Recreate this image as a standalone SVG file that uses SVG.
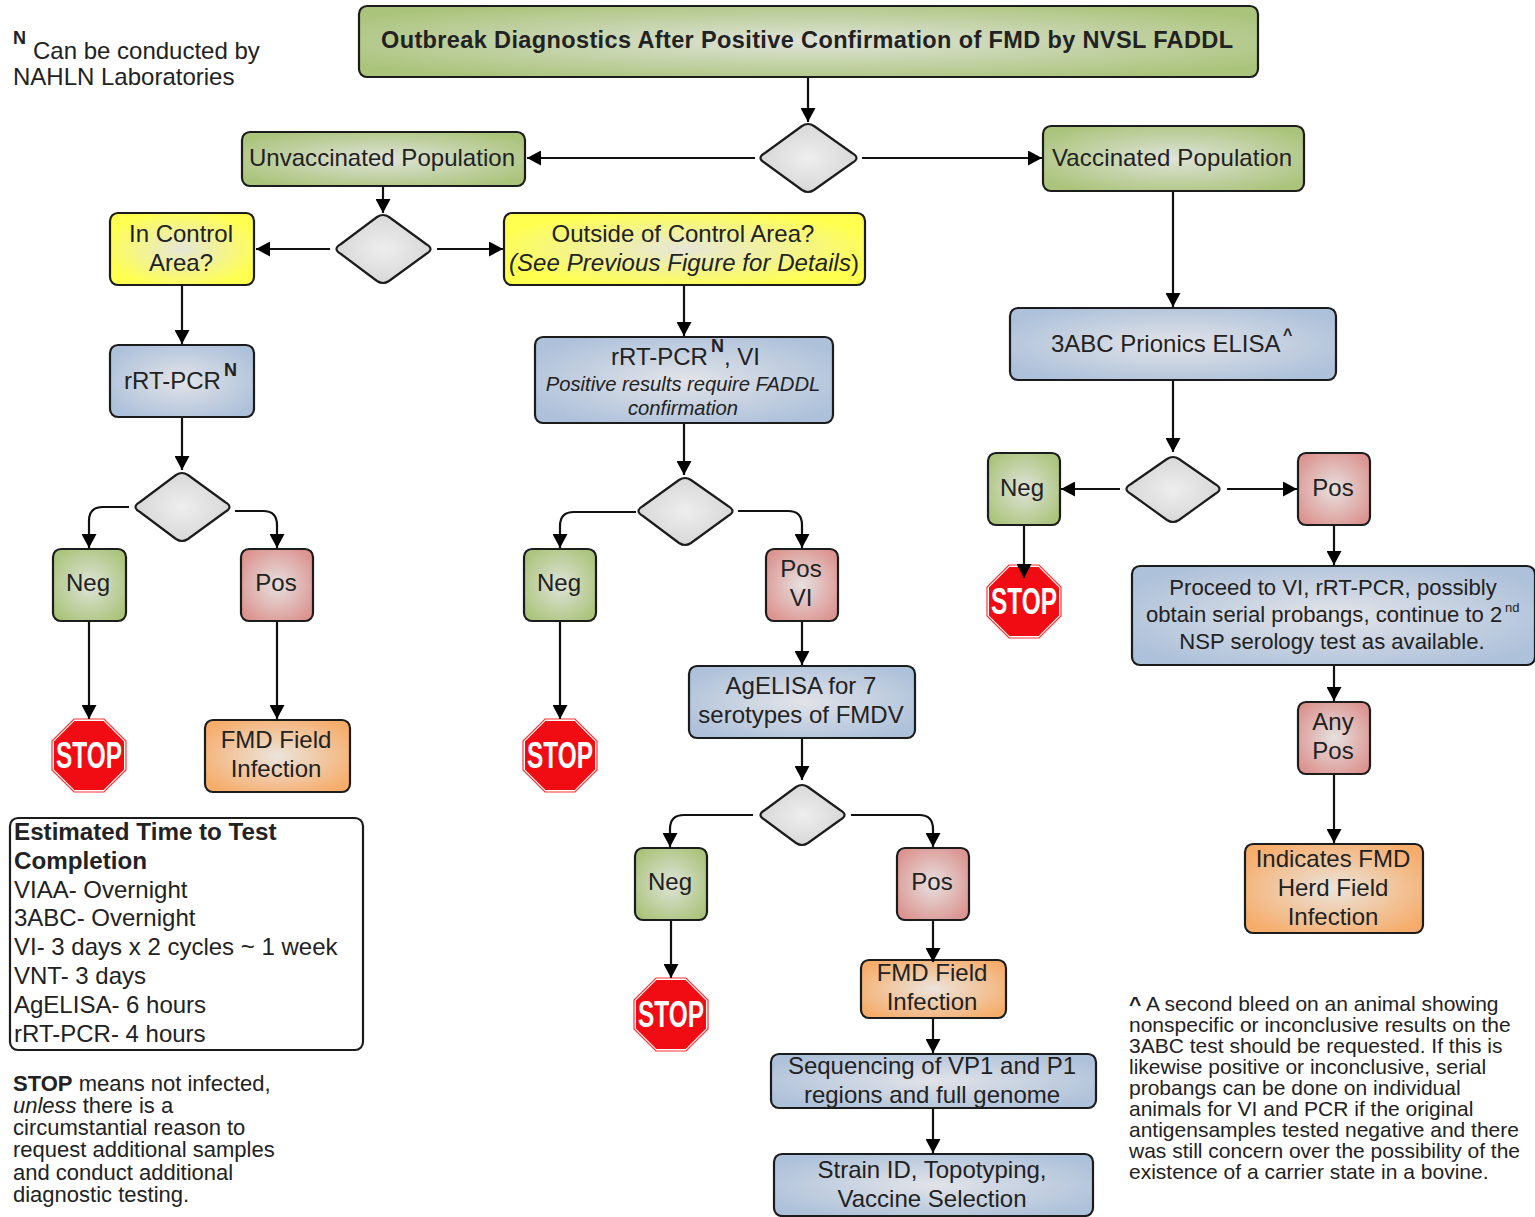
<svg xmlns="http://www.w3.org/2000/svg" width="1535" height="1217" viewBox="0 0 1535 1217">
<style>
text{font-family:"Liberation Sans",Arial,sans-serif;fill:#222;font-size:24px}
.c{text-anchor:middle}
.n{stroke:#1c1c1c;stroke-width:2.2}
.g{fill:url(#green)}.y{fill:url(#yellow)}.b{fill:url(#blue)}.r{fill:url(#red)}.o{fill:url(#orange)}.d{fill:url(#gray)}
#connectors path{fill:none;stroke:#111;stroke-width:2.2;marker-end:url(#arrow)}
.i{font-style:italic}.s{font-size:20.2px}
.sup{font-size:18px;font-weight:bold}
.m{font-size:22.1px}
.p{font-size:22px}
.f{font-size:21px}
.bh{font-size:24.2px;font-weight:bold}
.st{fill:#fff;font-weight:bold;font-size:36px;text-anchor:middle}
.oct{fill:#f00c12;stroke:#fff;stroke-width:2}
.octo{fill:none;stroke:#f33;stroke-width:1.2}
</style>
<defs>
<marker id="arrow" markerUnits="userSpaceOnUse" markerWidth="15" markerHeight="15" refX="14" refY="7.5" orient="auto"><path d="M0 0L14 7.5L0 15Z" fill="#000"/></marker>
<radialGradient id="green" cx=".5" cy=".5" r=".6"><stop offset="0" stop-color="#dfe3d9"/><stop offset="1" stop-color="#abc47c"/></radialGradient>
<radialGradient id="yellow" cx=".5" cy=".5" r=".6"><stop offset="0" stop-color="#e6e6da"/><stop offset=".9" stop-color="#ffff50"/></radialGradient>
<radialGradient id="blue" cx=".5" cy=".5" r=".6"><stop offset="0" stop-color="#e2e3e8"/><stop offset="1" stop-color="#adc1da"/></radialGradient>
<radialGradient id="red" cx=".5" cy=".5" r=".6"><stop offset="0" stop-color="#e6e1e0"/><stop offset="1" stop-color="#dc9490"/></radialGradient>
<radialGradient id="orange" cx=".5" cy=".5" r=".6"><stop offset="0" stop-color="#ebe4dc"/><stop offset="1" stop-color="#f6ad6c"/></radialGradient>
<radialGradient id="gray" cx=".5" cy=".5" r=".55"><stop offset="0" stop-color="#eeeeee"/><stop offset="1" stop-color="#d6d6d6"/></radialGradient>
</defs>
<rect width="1535" height="1217" fill="#fff"/>

<g id="title"><rect class="n g" x="359" y="6" width="899" height="71" rx="8"/><text class="c" x="807" y="48" font-weight="bold" style="font-size:23.5px" textLength="852" lengthAdjust="spacing">Outbreak Diagnostics After Positive Confirmation of FMD by NVSL FADDL</text></g>
<g id="d1"><path class="n d" d="M802 126Q808 122 814 126L852 153Q861 158 852 163L814 190Q808 194 802 190L765 163Q756 158 765 153Z"/></g>
<g id="unvaccinated"><rect class="n g" x="242" y="132" width="283" height="54" rx="8"/><text class="c" x="382" y="166" textLength="266">Unvaccinated Population</text></g>
<g id="vaccinated"><rect class="n g" x="1043" y="126" width="261" height="65" rx="8"/><text class="c" x="1172" y="166" textLength="240">Vaccinated Population</text></g>
<g id="d2"><path class="n d" d="M377 217Q383 213 389 217L426 244Q435 249 426 254L389 281Q383 285 377 281L341 254Q332 249 341 244Z"/></g>
<g id="incontrol"><rect class="n y" x="110" y="213" width="144" height="72" rx="8"/><text class="c" x="181" y="242">In Control</text><text class="c" x="181" y="271">Area?</text></g>
<g id="outside"><rect class="n y" x="504" y="213" width="361" height="72" rx="8"/><text class="c" x="683" y="242">Outside of Control Area?</text><text class="c" x="684" y="271" textLength="350"><tspan class="i">(See Previous Figure for Details</tspan>)</text></g>
<g id="rrt1"><rect class="n b" x="110" y="345" width="144" height="72" rx="8"/><text x="124" y="389">rRT-PCR</text><text class="sup" x="224" y="376">N</text></g>
<g id="rrt2"><rect class="n b" x="535" y="337" width="298" height="86" rx="8"/><text x="611" y="365">rRT-PCR</text><text class="sup" x="711" y="352">N</text><text x="724" y="365">, VI</text><text class="c i s" x="683" y="391">Positive results require FADDL</text><text class="c i s" x="683" y="415">confirmation</text></g>
<g id="elisa"><rect class="n b" x="1010" y="308" width="326" height="72" rx="8"/><text x="1051" y="352">3ABC Prionics ELISA</text><text x="1283" y="340" font-weight="bold" style="font-size:16px">^</text></g>

<g id="d3"><path class="n d" d="M176 475Q182 471 188 475L225 502Q234 507 225 512L188 539Q182 543 176 539L140 512Q131 507 140 502Z"/></g>
<g id="neg1"><rect class="n g" x="53" y="549" width="73" height="72" rx="8"/><text class="c" x="88" y="591">Neg</text></g>
<g id="pos1"><rect class="n r" x="241" y="549" width="72" height="72" rx="8"/><text class="c" x="276" y="591">Pos</text></g>
<g id="stop1"><path class="oct" d="M74 720H104L125 741V770L104 791H74L53 770V741Z"/><path class="octo" d="M74 719H104L126 741V770L104 792H74L52 770V741Z"/><text class="st" x="89" y="768" textLength="66" lengthAdjust="spacingAndGlyphs">STOP</text></g>
<g id="field1"><rect class="n o" x="205" y="720" width="145" height="72" rx="8"/><text class="c" x="276" y="748">FMD Field</text><text class="c" x="276" y="777">Infection</text></g>

<g id="d4"><path class="n d" d="M679 480Q685 476 691 480L728 506Q737 511 728 516L691 543Q685 547 679 543L643 516Q634 511 643 506Z"/></g>
<g id="neg2"><rect class="n g" x="524" y="549" width="72" height="72" rx="8"/><text class="c" x="559" y="591">Neg</text></g>
<g id="pos2"><rect class="n r" x="766" y="549" width="72" height="72" rx="8"/><text class="c" x="801" y="577">Pos</text><text class="c" x="801" y="606">VI</text></g>
<g id="stop2"><path class="oct" d="M545 720H575L596 741V770L575 791H545L524 770V741Z"/><path class="octo" d="M545 719H575L597 741V770L575 792H545L523 770V741Z"/><text class="st" x="560" y="768" textLength="66" lengthAdjust="spacingAndGlyphs">STOP</text></g>
<g id="agelisa"><rect class="n b" x="689" y="666" width="226" height="72" rx="8"/><text class="c" x="801" y="694">AgELISA for 7</text><text class="c" x="801" y="723">serotypes of FMDV</text></g>

<g id="d5"><path class="n d" d="M796 787Q802 783 808 787L840 810Q849 815 840 820L808 843Q802 847 796 843L765 820Q756 815 765 810Z"/></g>
<g id="neg3"><rect class="n g" x="635" y="848" width="72" height="72" rx="8"/><text class="c" x="670" y="890">Neg</text></g>
<g id="pos3"><rect class="n r" x="897" y="848" width="72" height="72" rx="8"/><text class="c" x="932" y="890">Pos</text></g>
<g id="stop3"><path class="oct" d="M656 979H686L707 1000V1029L686 1050H656L635 1029V1000Z"/><path class="octo" d="M656 978H686L708 1000V1029L686 1051H656L634 1029V1000Z"/><text class="st" x="671" y="1027" textLength="66" lengthAdjust="spacingAndGlyphs">STOP</text></g>
<g id="field2"><rect class="n o" x="861" y="960" width="145" height="58" rx="8"/><text class="c" x="932" y="981">FMD Field</text><text class="c" x="932" y="1010">Infection</text></g>
<g id="sequencing"><rect class="n b" x="771" y="1054" width="325" height="54" rx="8"/><text class="c" x="932" y="1074">Sequencing of VP1 and P1</text><text class="c" x="932" y="1103">regions and full genome</text></g>
<g id="strain"><rect class="n b" x="774" y="1154" width="319" height="62" rx="8"/><text class="c" x="932" y="1178">Strain ID, Topotyping,</text><text class="c" x="932" y="1207">Vaccine Selection</text></g>

<g id="d6"><path class="n d" d="M1167 459Q1173 455 1179 459L1215 484Q1224 489 1215 494L1179 520Q1173 524 1167 520L1131 494Q1122 489 1131 484Z"/></g>
<g id="neg4"><rect class="n g" x="988" y="453" width="72" height="72" rx="8"/><text class="c" x="1022" y="496">Neg</text></g>
<g id="pos4"><rect class="n r" x="1298" y="453" width="72" height="72" rx="8"/><text class="c" x="1333" y="496">Pos</text></g>
<g id="stop4"><path class="oct" d="M1009 566H1039L1060 587V616L1039 637H1009L988 616V587Z"/><path class="octo" d="M1009 565H1039L1061 587V616L1039 638H1009L987 616V587Z"/><text class="st" x="1024" y="614" textLength="66" lengthAdjust="spacingAndGlyphs">STOP</text></g>
<g id="proceed"><rect class="n b" x="1132" y="566" width="403" height="99" rx="8"/><text class="c m" x="1333" y="595">Proceed to VI, rRT-PCR, possibly</text><text class="m" x="1146" y="622">obtain serial probangs, continue to 2</text><text x="1505" y="612" style="font-size:13px">nd</text><text class="c m" x="1332" y="649">NSP serology test as available.</text></g>
<g id="anypos"><rect class="n r" x="1298" y="702" width="72" height="72" rx="8"/><text class="c" x="1333" y="730">Any</text><text class="c" x="1333" y="759">Pos</text></g>
<g id="herd"><rect class="n o" x="1245" y="844" width="178" height="89" rx="8"/><text class="c" x="1333" y="867">Indicates FMD</text><text class="c" x="1333" y="896">Herd Field</text><text class="c" x="1333" y="925">Infection</text></g>

<g id="legend-n"><text class="sup" x="13" y="44">N</text><text x="33" y="59">Can be conducted by</text><text x="13" y="85">NAHLN Laboratories</text></g>
<g id="time"><rect x="10" y="818" width="353" height="232" rx="8" fill="#fff" stroke="#1c1c1c" stroke-width="2.2"/>
<text class="bh" x="14" y="840">Estimated Time to Test</text>
<text class="bh" x="14" y="869">Completion</text>
<text x="14" y="898">VIAA- Overnight</text>
<text x="14" y="926">3ABC- Overnight</text>
<text x="14" y="955">VI- 3 days x 2 cycles ~ 1 week</text>
<text x="14" y="984">VNT- 3 days</text>
<text x="14" y="1013">AgELISA- 6 hours</text>
<text x="14" y="1042">rRT-PCR- 4 hours</text></g>
<g id="stopnote">
<text class="p" x="13" y="1091"><tspan font-weight="bold">STOP</tspan> means not infected,</text>
<text class="p" x="13" y="1113"><tspan class="i">unless</tspan> there is a</text>
<text class="p" x="13" y="1135">circumstantial reason to</text>
<text class="p" x="13" y="1157">request additional samples</text>
<text class="p" x="13" y="1180">and conduct additional</text>
<text class="p" x="13" y="1202">diagnostic testing.</text></g>
<g id="footnote">
<text class="f" x="1129" y="1011"><tspan font-weight="bold">^</tspan> A second bleed on an animal showing</text>
<text class="f" x="1129" y="1032">nonspecific or inconclusive results on the</text>
<text class="f" x="1129" y="1053">3ABC test should be requested. If this is</text>
<text class="f" x="1129" y="1074">likewise positive or inconclusive, serial</text>
<text class="f" x="1129" y="1095">probangs can be done on individual</text>
<text class="f" x="1129" y="1116">animals for VI and PCR if the original</text>
<text class="f" x="1129" y="1137">antigensamples tested negative and there</text>
<text class="f" x="1129" y="1158">was still concern over the possibility of the</text>
<text class="f" x="1129" y="1179">existence of a carrier state in a bovine.</text></g>

<g id="connectors">
<path d="M808 78V122"/>
<path d="M755 158H527"/>
<path d="M862 158H1042"/>
<path d="M383 187V213"/>
<path d="M330 249H256"/>
<path d="M437 249H503"/>
<path d="M182 286V344"/>
<path d="M684 286V336"/>
<path d="M1173 192V307"/>
<path d="M182 418V470"/>
<path d="M684 424V475"/>
<path d="M1173 381V452"/>
<path d="M129 507H103Q89 507 89 521V548"/>
<path d="M235 511H263Q277 511 277 525V548"/>
<path d="M636 512H574Q560 512 560 526V548"/>
<path d="M738 511H788Q802 511 802 525V548"/>
<path d="M1120 489H1061"/>
<path d="M1227 489H1297"/>
<path d="M89 622V719"/>
<path d="M277 622V719"/>
<path d="M560 622V719"/>
<path d="M802 622V665"/>
<path d="M802 739V780"/>
<path d="M1024 526V578"/>
<path d="M1334 526V565"/>
<path d="M1334 666V701"/>
<path d="M1334 775V843"/>
<path d="M753 815H684Q670 815 670 829V847"/>
<path d="M851 815H919Q933 815 933 829V847"/>
<path d="M671 921V978"/>
<path d="M933 921V962"/>
<path d="M933 1019V1053"/>
<path d="M933 1109V1153"/>
</g>
</svg>
